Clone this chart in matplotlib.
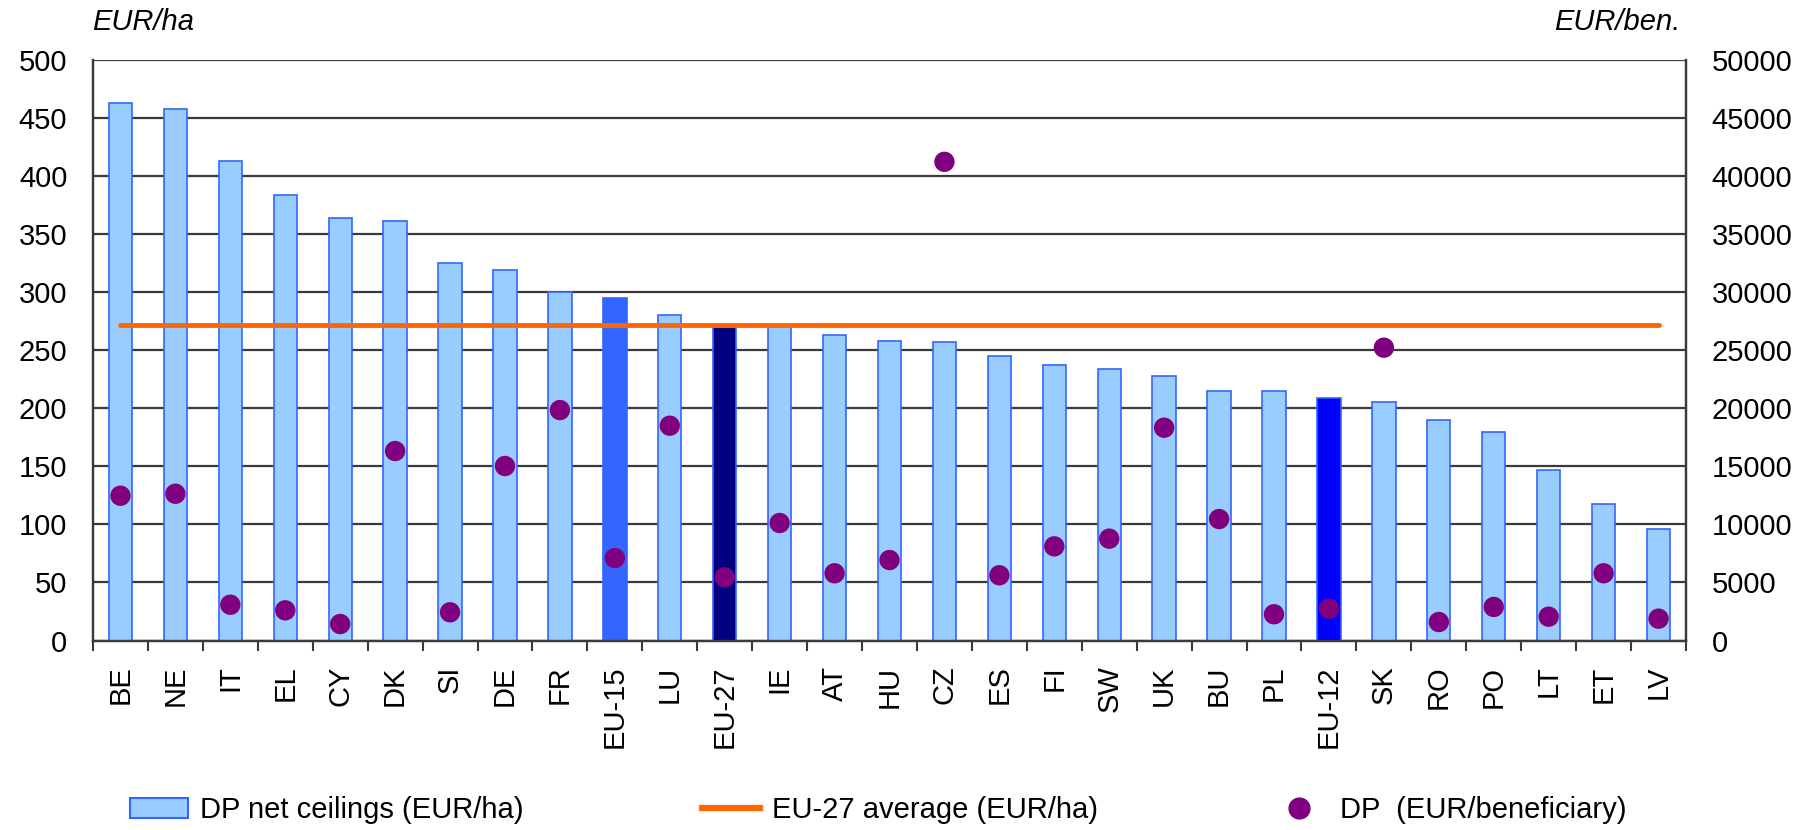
import matplotlib
matplotlib.use("Agg")
import matplotlib.pyplot as plt
from matplotlib.patches import Patch
from matplotlib.lines import Line2D
import numpy as np

plt.rcParams['font.family'] = ['Liberation Sans', 'DejaVu Sans']

categories = ["BE", "NE", "IT", "EL", "CY", "DK", "SI", "DE", "FR", "EU-15", "LU", "EU-27",
              "IE", "AT", "HU", "CZ", "ES", "FI", "SW", "UK", "BU", "PL", "EU-12", "SK",
              "RO", "PO", "LT", "ET", "LV"]
ceilings = [463, 458, 413, 384, 364, 361, 325, 319, 300, 295, 280, 270,
            271, 263, 258, 257, 245, 237, 234, 228, 215, 215, 209, 205,
            190, 180, 147, 118, 96]
per_beneficiary = [12470, 12640, 3080, 2600, 1420, 16320, 2430, 15030, 19850, 7100, 18500, 5440,
                   10120, 5790, 6930, 41230, 5620, 8110, 8770, 18330, 10460, 2260, 2740, 25220,
                   1590, 2890, 2050, 5790, 1880]
eu27_average = 272

left_ticks = list(range(0, 501, 50))
right_ticks = list(range(0, 50001, 5000))

FS = 21
GRID = '#3a3a3a'
LIGHT = '#99CCFF'
EDGE = '#3366FF'
special_fill = {"EU-15": '#3366FF', "EU-27": '#000080', "EU-12": '#0000FF'}

fig = plt.figure(figsize=(18.12, 8.30), dpi=100)
ax = fig.add_axes([93/1812, 1 - 640.5/830, (1686 - 93)/1812, (640.5 - 60)/830])

x = np.arange(len(categories))
fills = [special_fill.get(c, LIGHT) for c in categories]
ax.bar(x, ceilings, width=0.425, color=fills, edgecolor=EDGE, linewidth=1.2, zorder=2)
ax.plot([x[0], x[-1]], [eu27_average, eu27_average], color='#FF6600', linewidth=3.5,
        solid_capstyle='round', zorder=3)

ax.set_xlim(-0.5, len(categories) - 0.5)
ax.set_ylim(0, 500)
ax.set_yticks(left_ticks)
ax.set_yticklabels([str(t) for t in left_ticks], fontsize=FS)
ax.yaxis.grid(True, color=GRID, linewidth=1.6, zorder=0)
ax.set_axisbelow(True)
ax.tick_params(axis='y', length=0, pad=18.5)

ax.set_xticks(x)
ax.set_xticklabels(categories, rotation=90, fontsize=FS)
ax.set_xticks(np.arange(-0.5, len(categories), 1.0), minor=True)
ax.tick_params(axis='x', which='major', length=0, pad=18)
ax.tick_params(axis='x', which='minor', length=7.5, width=1.5, color=GRID)

for s in ax.spines.values():
    s.set_color(GRID)
    s.set_linewidth(1.6)
ax.spines['top'].set_visible(False)

ax2 = ax.twinx()
ax2.scatter(x, per_beneficiary, s=215, color='#800080', zorder=4, edgecolors='none')
ax2.set_ylim(0, 50000)
ax2.set_yticks(right_ticks)
ax2.set_yticklabels([str(t) for t in right_ticks], fontsize=FS)
ax2.tick_params(axis='y', length=0, pad=18.5)
for s in ax2.spines.values():
    s.set_color(GRID)
    s.set_linewidth(1.6)
ax2.spines['top'].set_visible(False)

fig.text(92/1812, 1 - 22/830, "EUR/ha", fontsize=FS, style='italic', ha='left', va='center')
fig.text(1680/1812, 1 - 22/830, "EUR/ben.", fontsize=FS, style='italic', ha='right', va='center')

leg_y = 1 - 810/830
h1 = Patch(facecolor=LIGHT, edgecolor=EDGE, linewidth=1.5)
h2 = Line2D([], [], color='#FF6600', linewidth=4.5)
h3 = Line2D([], [], color='#800080', marker='o', linestyle='none', markersize=15)
for h, lab, xp in [(h1, "DP net ceilings (EUR/ha)", 130),
                   (h2, "EU-27 average (EUR/ha)", 702),
                   (h3, "DP  (EUR/beneficiary)", 1270)]:
    fig.legend(handles=[h], labels=[lab], loc='center left', bbox_to_anchor=(xp/1812, leg_y),
               frameon=False, fontsize=FS, borderpad=0, borderaxespad=0,
               handlelength=2.0, handletextpad=0.4)

fig.savefig("out.png", dpi=100)
